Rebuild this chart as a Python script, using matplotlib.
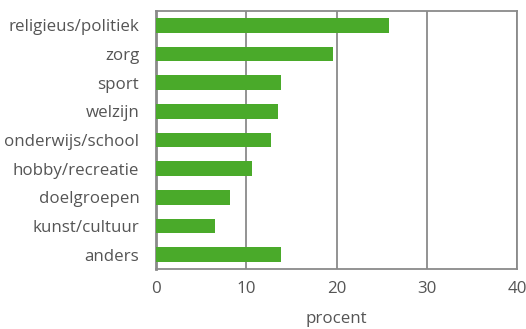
import matplotlib.pyplot as plt

categories = ['religieus/politiek', 'zorg', 'sport', 'welzijn', 'onderwijs/school',
              'hobby/recreatie', 'doelgroepen', 'kunst/cultuur', 'anders']
values = [25.8, 19.6, 13.8, 13.5, 12.7, 10.6, 8.2, 6.5, 13.8]
xticks = [0, 10, 20, 30, 40]

plt.rcParams['font.family'] = ['Open Sans', 'DejaVu Sans']

fig = plt.figure(figsize=(5.26, 3.29), dpi=100)
ax = fig.add_axes([0.2966, 0.1824, 0.6864, 0.7842])

pos = list(range(len(categories)))[::-1]
ax.barh(pos, values, height=0.52, color='#4aaa2a', zorder=3)

ax.set_xlim(0, 40)
ax.set_ylim(-0.5, len(categories) - 0.5)
ax.set_xticks(xticks)
ax.set_yticks(pos)
ax.set_yticklabels(categories)
ax.grid(axis='x', color='#8a8a8a', linewidth=1.3, zorder=1)

for s in ax.spines.values():
    s.set_color('#8a8a8a')
    s.set_linewidth(1.3)
ax.spines['left'].set_linewidth(2)

ax.tick_params(length=0, labelsize=12.2, labelcolor='#555555')
ax.tick_params(axis='x', pad=9)
ax.tick_params(axis='y', pad=12)
ax.set_xlabel('procent', fontsize=12.2, color='#555555', labelpad=10)

fig.savefig('out.png', dpi=100)
